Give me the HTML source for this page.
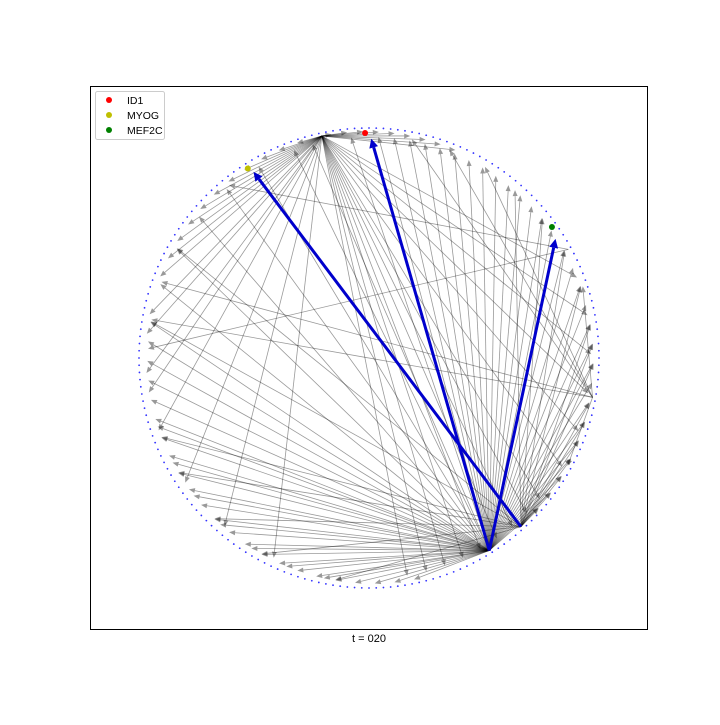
<!DOCTYPE html>
<html><head><meta charset="utf-8"><style>
body{margin:0;background:#fff;font-family:"Liberation Sans",sans-serif}
</style></head><body>
<svg id="c" width="720" height="720" xmlns="http://www.w3.org/2000/svg">
<rect x="0" y="0" width="720" height="720" fill="#fff"/>
<rect x="90.5" y="86.5" width="557" height="543" fill="none" stroke="#000" stroke-width="1"/>
<g id="edges"></g><g id="nodes"></g><g id="blue"></g><g id="marks"></g>
<text x="369" y="642" font-size="11" text-anchor="middle">t = 020</text>
<g>
<rect x="95.5" y="91.5" width="69" height="48" rx="2" fill="#fff" stroke="#ccc"/>
<circle cx="109" cy="100" r="3" fill="#ff0000"/>
<text x="127" y="104" font-size="10.5">ID1</text>
<circle cx="109" cy="115" r="3" fill="#bfbf00"/>
<text x="127" y="119" font-size="10.5">MYOG</text>
<circle cx="109" cy="130" r="3" fill="#008000"/>
<text x="127" y="134" font-size="10.5">MEF2C</text>
</g>
</svg>
<script>
const nodeCount = 200;
const hubAngles = [-58, 102, -48, -10, 28.6];
const hubATargets = [95,88,84,80,76,72,68,64,60,56,52,48,44,40,36,30,25,20,15,10,5,0,-5,-10,-15,-20,-25,-30,-35,-40,150,160,170,175,180,185,190,195,200,205,210,215,220,225,230,235,240,245,250,255,260,265,270,275,280,140,130,120,110,105,197,207,217,227,237,247,257];
const hubBTargets = [98,94,90,86,82,78,74,70,66,110,115,120,125,130,135,140,145,150,160,170,190,200,215,230,245,-55,-60,-65,-70,-75,-80,-50,-45,-40,-30,-20,-10,0,10,20,155,175,185];
const hubCTargets = [-20,-25,-30,-35,-40,-10,0,10,20,30,40,50,150,170,200,210,225,240,260,-15,5];
const hubDTargets = [160,170,60,70,80,20,-30];
const hubETargets = [178,130];
const blueFrom = [-58, -58, -48];
const blueTo = [90, 34, 122];
const markerNames = ['ID1','MYOG','MEF2C'];
const markerAngles = [91, 122.6, 35.6];
const markerColors = ['#ff0000','#bfbf00','#008000'];

const cx=369, cy=358, R=227;
const NS='http://www.w3.org/2000/svg';
function px(a,r){return cx+(r||R)*Math.cos(a*Math.PI/180);}
function py(a,r){return cy-(r||R)*Math.sin(a*Math.PI/180);}
function mk(tag,attrs,parent){const e=document.createElementNS(NS,tag);for(const k in attrs)e.setAttribute(k,attrs[k]);parent.appendChild(e);return e;}
const edgesG=document.getElementById('edges'), nodesG=document.getElementById('nodes'), blueG=document.getElementById('blue'), marksG=document.getElementById('marks');
function arrow(a1,a2,g,color,w,hl,hw,op,sh){
  const x1=px(a1),y1=py(a1),x2=px(a2),y2=py(a2);
  const dx=x2-x1,dy=y2-y1,L=Math.hypot(dx,dy)||1,ux=dx/L,uy=dy/L;
  const ex=x2-ux*sh,ey=y2-uy*sh,bx=ex-ux*hl,by=ey-uy*hl;
  const ln=mk('line',{x1:x1,y1:y1,x2:bx,y2:by,stroke:color,'stroke-width':w,'stroke-opacity':op},g);
  
  
  const hd=mk('polygon',{points:`${ex},${ey} ${bx-uy*hw},${by+ux*hw} ${bx+uy*hw},${by-ux*hw}`,fill:color,'fill-opacity':op},g);
  
  
}
for(let i=0;i<nodeCount;i++){
  const a=i*360/nodeCount;
  const c=mk('circle',{cx:px(a,230),cy:py(a,230),r:0.9,fill:'#3333ff'},nodesG);
  
  
}
const lists=[hubATargets,hubBTargets,hubCTargets,hubDTargets,hubETargets];
lists.forEach((l,h)=>l.forEach(t=>arrow(hubAngles[h],t,edgesG,'#000',0.8,6,2.5,0.4,6)));
blueFrom.forEach((f,i)=>arrow(f,blueTo[i],blueG,'#0000cc',3,9,4.5,1,8));
markerAngles.forEach((a,i)=>{
  const c=mk('circle',{cx:px(a,225),cy:py(a,225),r:3,fill:markerColors[i]},marksG);
  
  
});
</script>
</body></html>
